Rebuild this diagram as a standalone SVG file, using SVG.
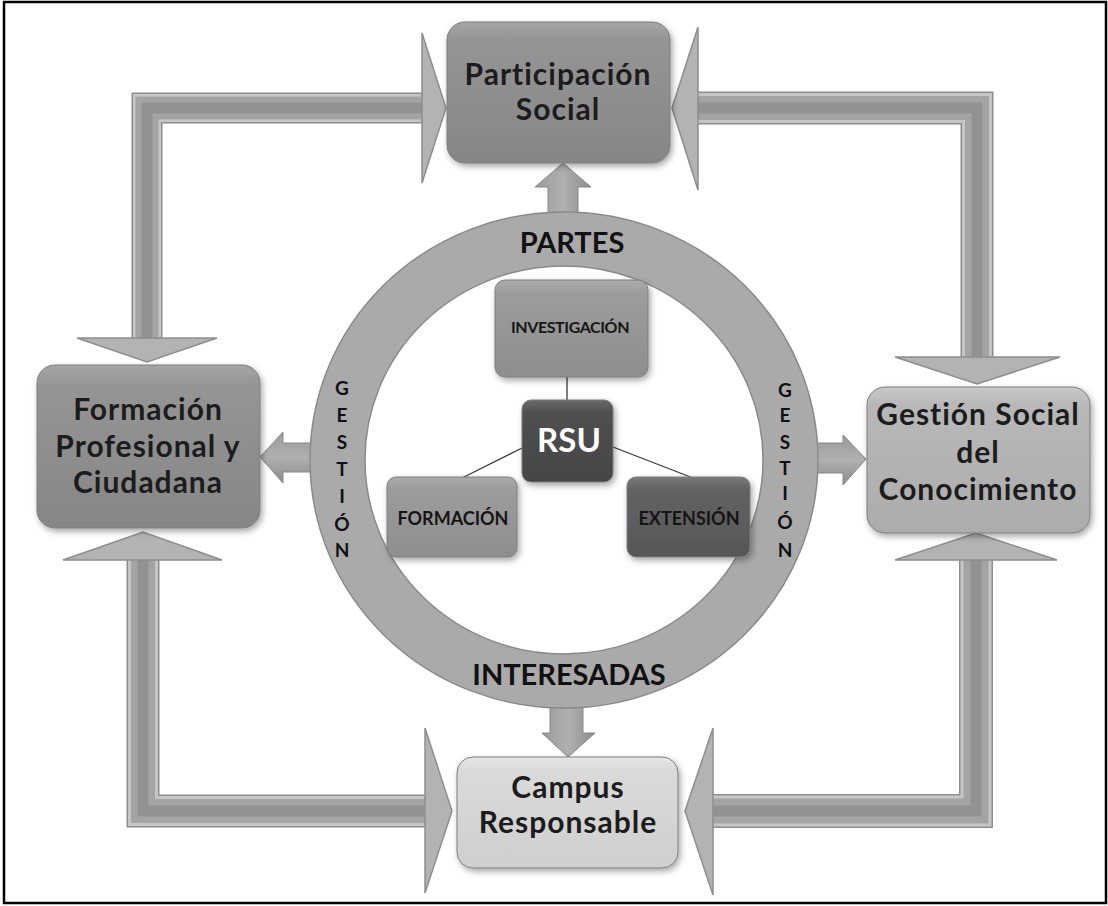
<svg xmlns="http://www.w3.org/2000/svg" width="1108" height="906" viewBox="0 0 1108 906">
<defs>
  <linearGradient id="gDark" x1="0" y1="0" x2="0" y2="1">
    <stop offset="0" stop-color="#a6a6a6"/>
    <stop offset="0.12" stop-color="#959595"/>
    <stop offset="1" stop-color="#868686"/>
  </linearGradient>
  <linearGradient id="gMid" x1="0" y1="0" x2="0" y2="1">
    <stop offset="0" stop-color="#c8c8c8"/>
    <stop offset="0.12" stop-color="#b8b8b8"/>
    <stop offset="1" stop-color="#acacac"/>
  </linearGradient>
  <linearGradient id="gLight" x1="0" y1="0" x2="0" y2="1">
    <stop offset="0" stop-color="#e6e6e6"/>
    <stop offset="0.12" stop-color="#dadada"/>
    <stop offset="1" stop-color="#cfcfcf"/>
  </linearGradient>
  <linearGradient id="gInner" x1="0" y1="0" x2="0" y2="1">
    <stop offset="0" stop-color="#ababab"/>
    <stop offset="0.15" stop-color="#9c9c9c"/>
    <stop offset="1" stop-color="#8e8e8e"/>
  </linearGradient>
  <linearGradient id="gExt" x1="0" y1="0" x2="0" y2="1">
    <stop offset="0" stop-color="#7a7a7a"/>
    <stop offset="0.15" stop-color="#626262"/>
    <stop offset="1" stop-color="#575757"/>
  </linearGradient>
  <linearGradient id="gRsu" x1="0" y1="0" x2="0" y2="1">
    <stop offset="0" stop-color="#6a6a6a"/>
    <stop offset="0.15" stop-color="#505050"/>
    <stop offset="1" stop-color="#454545"/>
  </linearGradient>
  <linearGradient id="gSmallV" x1="0" y1="0" x2="1" y2="0">
    <stop offset="0" stop-color="#9a9a9a"/>
    <stop offset="0.5" stop-color="#b0b0b0"/>
    <stop offset="1" stop-color="#8c8c8c"/>
  </linearGradient>
  <linearGradient id="gSmallH" x1="0" y1="0" x2="0" y2="1">
    <stop offset="0" stop-color="#9a9a9a"/>
    <stop offset="0.5" stop-color="#b0b0b0"/>
    <stop offset="1" stop-color="#8c8c8c"/>
  </linearGradient>
  <filter id="sh" x="-10%" y="-10%" width="125%" height="130%">
    <feDropShadow dx="2" dy="3" stdDeviation="3" flood-color="#000" flood-opacity="0.35"/>
  </filter>
</defs>
<style>
  text{font-variant-ligatures:none;font-feature-settings:"liga" 0,"clig" 0}
  .frame{fill:#fff;stroke:#000;stroke-width:2.5}
  .s1{fill:none;stroke:#8e8e8e;stroke-linejoin:miter}
  .s2{fill:none;stroke:#c6c6c6;stroke-linejoin:miter}
  .s3{fill:none;stroke:#a4a4a4;stroke-linejoin:miter}
  .s4{fill:none;stroke:#929292;stroke-linejoin:miter}
  .head{fill:#b3b3b3;stroke:#8e8e8e;stroke-width:1.5;stroke-linejoin:miter}
  .sv{fill:url(#gSmallV);stroke:#888;stroke-width:1}
  .sh{fill:url(#gSmallH);stroke:#888;stroke-width:1}
  .ring{fill:#aaaaaa;stroke:#8a8a8a;stroke-width:1.5;fill-rule:evenodd}
  .box{stroke:#7d7d7d;stroke-width:1;filter:url(#sh)}
  .big{font-family:Lato,"Liberation Sans",sans-serif;font-weight:bold;font-size:30px;letter-spacing:1px;fill:#1c1c1c;text-anchor:middle}
  .ringt{font-family:Lato,"Liberation Sans",sans-serif;font-weight:bold;font-size:29px;fill:#111;text-anchor:middle}
  .vert{font-family:Lato,"Liberation Sans",sans-serif;font-weight:bold;font-size:19px;fill:#111;text-anchor:middle}
  .small{font-family:Lato,"Liberation Sans",sans-serif;font-weight:bold;font-size:18px;fill:#151515;text-anchor:middle}
  .inv{font-size:16px;letter-spacing:-0.4px}
  .rsu{font-family:Lato,"Liberation Sans",sans-serif;font-weight:bold;font-size:33px;fill:#fff;text-anchor:middle}
  .link{stroke:#3a3a3a;stroke-width:1.3;fill:none}
</style>

<rect class="frame" x="4" y="2" width="1102" height="901"/>

<g id="connectors">
  <g id="arrow-top-left">
    <polyline class="s1" stroke-width="31" points="147,338 147,108 422,108"/>
    <polyline class="s2" stroke-width="28" points="147,338 147,108 422,108"/>
    <polyline class="s3" stroke-width="23" points="147,338 147,108 422,108"/>
    <polyline class="s4" stroke-width="11" points="147,338 147,108 422,108"/>
    <polygon class="head" points="77,338 217,338 147,362"/>
    <polygon class="head" points="422,33 422,183 446,108"/>
  </g>
  <g id="arrow-top-right">
    <polyline class="s1" stroke-width="33" points="698,108 977,108 977,357"/>
    <polyline class="s2" stroke-width="30" points="698,108 977,108 977,357"/>
    <polyline class="s3" stroke-width="24" points="698,108 977,108 977,357"/>
    <polyline class="s4" stroke-width="11" points="698,108 977,108 977,357"/>
    <polygon class="head" points="698,27 698,190 672,108"/>
    <polygon class="head" points="895,357 1060,357 977,384"/>
  </g>
  <g id="arrow-bottom-left">
    <polyline class="s1" stroke-width="33" points="143,560 143,811 425,811"/>
    <polyline class="s2" stroke-width="30" points="143,560 143,811 425,811"/>
    <polyline class="s3" stroke-width="24" points="143,560 143,811 425,811"/>
    <polyline class="s4" stroke-width="11" points="143,560 143,811 425,811"/>
    <polygon class="head" points="63,560 222,560 143,532"/>
    <polygon class="head" points="425,728 425,893 452,811"/>
  </g>
  <g id="arrow-bottom-right">
    <polyline class="s1" stroke-width="34" points="976,560 976,811 713,811"/>
    <polyline class="s2" stroke-width="31" points="976,560 976,811 713,811"/>
    <polyline class="s3" stroke-width="25" points="976,560 976,811 713,811"/>
    <polyline class="s4" stroke-width="11" points="976,560 976,811 713,811"/>
    <polygon class="head" points="895,560 1057,560 976,533"/>
    <polygon class="head" points="713,728 713,895 685,811"/>
  </g>
  <polygon class="sv" points="548,214 548,187 535,187 563,163 591,187 578,187 578,214"/>
  <polygon class="sh" points="312,443 283,443 283,432 260,457 283,483 283,472 312,472"/>
  <polygon class="sh" points="816,443 843,443 843,435 866,459 843,485 843,473 816,473"/>
  <polygon class="sv" points="550,706 583,706 583,733 595,733 568,757 542,733 550,733"/>
  <line class="link" x1="567" y1="377" x2="567" y2="400"/>
  <line class="link" x1="522" y1="448" x2="462" y2="478"/>
  <line class="link" x1="613" y1="447" x2="693" y2="478"/>
</g>

<g id="ring">
  <path class="ring" d="M310,460 a254,248 0 1,0 508,0 a254,248 0 1,0 -508,0 Z M365,460 a199,194 0 1,0 398,0 a199,194 0 1,0 -398,0 Z"/>
  <text class="ringt" x="572" y="253">PARTES</text>
  <text class="ringt" x="569" y="685">INTERESADAS</text>
  <g class="vert">
    <text x="342" y="395">G</text>
    <text x="342" y="422">E</text>
    <text x="342" y="449">S</text>
    <text x="342" y="476">T</text>
    <text x="342" y="503">I</text>
    <text x="342" y="531">Ó</text>
    <text x="342" y="557">N</text>
  </g>
  <g class="vert">
    <text x="785" y="397">G</text>
    <text x="785" y="422">E</text>
    <text x="785" y="449">S</text>
    <text x="785" y="475">T</text>
    <text x="785" y="500">I</text>
    <text x="785" y="529">Ó</text>
    <text x="785" y="557">N</text>
  </g>
</g>

<g id="participacion-social">
  <rect class="box" x="447" y="22" width="223" height="141" rx="18" fill="url(#gDark)"/>
  <text class="big" x="558" y="85">Participación</text>
  <text class="big" x="558" y="120">Social</text>
</g>

<g id="formacion-profesional">
  <rect class="box" x="37" y="365" width="223" height="163" rx="18" fill="url(#gDark)"/>
  <text class="big" x="148" y="420">Formación</text>
  <text class="big" x="148" y="457">Profesional y</text>
  <text class="big" x="148" y="493">Ciudadana</text>
</g>

<g id="gestion-social">
  <rect class="box" x="867" y="387" width="223" height="146" rx="18" fill="url(#gMid)"/>
  <text class="big" x="978" y="425">Gestión Social</text>
  <text class="big" x="978" y="463">del</text>
  <text class="big" x="978" y="500">Conocimiento</text>
</g>

<g id="campus-responsable">
  <rect class="box" x="457" y="757" width="221" height="111" rx="16" fill="url(#gLight)"/>
  <text class="big" x="568" y="798">Campus</text>
  <text class="big" x="568" y="833">Responsable</text>
</g>

<g id="investigacion">
  <rect class="box" x="495" y="280" width="153" height="97" rx="10" fill="url(#gInner)"/>
  <text class="small inv" x="570" y="333">INVESTIGACIÓN</text>
</g>

<g id="rsu">
  <rect class="box" x="522" y="400" width="91" height="82" rx="9" fill="url(#gRsu)"/>
  <text class="rsu" x="569" y="452">RSU</text>
</g>

<g id="formacion">
  <rect class="box" x="387" y="477" width="130" height="80" rx="9" fill="url(#gInner)"/>
  <text class="small" x="453" y="525">FORMACIÓN</text>
</g>

<g id="extension">
  <rect class="box" x="627" y="477" width="123" height="80" rx="9" fill="url(#gExt)"/>
  <text class="small" x="689" y="525">EXTENSIÓN</text>
</g>
</svg>
